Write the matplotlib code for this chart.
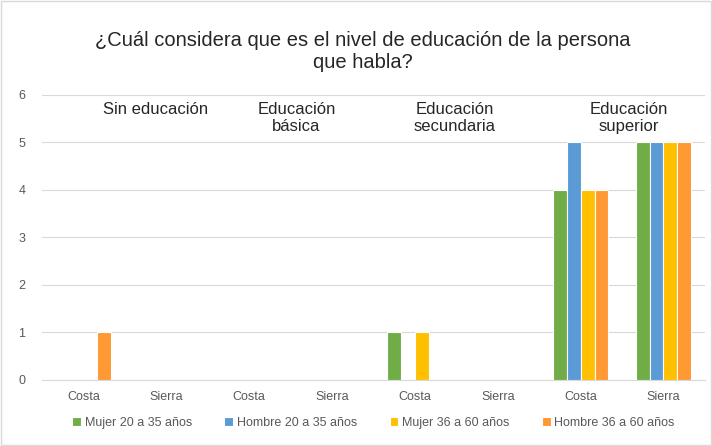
import matplotlib.pyplot as plt
import numpy as np

regions = ['Costa', 'Sierra'] * 4
niveles = ['Sin educación', 'Educación\nbásica', 'Educación\nsecundaria', 'Educación\nsuperior']
series = ['Mujer 20 a 35 años', 'Hombre 20 a 35 años', 'Mujer 36 a 60 años', 'Hombre 36 a 60 años']
mujer_20_35 = [0, 0, 0, 0, 1, 0, 4, 5]
hombre_20_35 = [0, 0, 0, 0, 0, 0, 5, 5]
mujer_36_60 = [0, 0, 0, 0, 1, 0, 4, 5]
hombre_36_60 = [1, 0, 0, 0, 0, 0, 4, 5]
colores = ['#70AD47', '#5B9BD5', '#FFC000', '#FF9933']

plt.rcParams['font.family'] = ['Liberation Sans', 'DejaVu Sans']

fig = plt.figure(figsize=(7.12, 4.46), dpi=100)
ax = fig.add_axes([0.059, 0.148, 0.931, 0.639])

x = np.arange(len(regions))
w = 0.168
valores = [mujer_20_35, hombre_20_35, mujer_36_60, hombre_36_60]
for k, (vals, nombre, c) in enumerate(zip(valores, series, colores)):
    ax.bar(x + (k - 1.5) * w, vals, width=w, color=c, edgecolor='white', linewidth=0.8,
           label=nombre, zorder=3)

ax.set_xlim(-0.5, 7.5)
ax.set_ylim(0, 6)
ax.set_yticks(range(7))
ax.set_xticks(x)
ax.set_xticklabels(regions)
ax.grid(axis='y', color='#D9D9D9', linewidth=0.8, zorder=0)
for s in ['top', 'right', 'left']:
    ax.spines[s].set_visible(False)
ax.spines['bottom'].set_color('#D9D9D9')
ax.tick_params(length=0, labelsize=9, colors='#595959', pad=8)
ax.tick_params(axis='y', pad=12)

pos_niveles = [0.87, 2.57, 4.48, 6.58]
for px, txt in zip(pos_niveles, niveles):
    ax.text(px, 5.86, txt, ha='center', va='top', fontsize=12, color='#262626', linespacing=1.2)

fig.text(0.51, 0.885, '¿Cuál considera que es el nivel de educación de la persona\nque habla?',
         ha='center', va='center', fontsize=14.5, color='#262626', linespacing=1.2)

ax.legend(loc='center', bbox_to_anchor=(0.5, -0.15), ncol=4, frameon=False, fontsize=9,
          handlelength=0.7, handleheight=0.7, handletextpad=0.3, columnspacing=2.6,
          labelcolor='#595959')

fig.patches.append(plt.Rectangle((0.002, 0.002), 0.996, 0.996, transform=fig.transFigure,
                                 fill=False, edgecolor='#D9D9D9', linewidth=1))

fig.savefig('out.png', dpi=100)
